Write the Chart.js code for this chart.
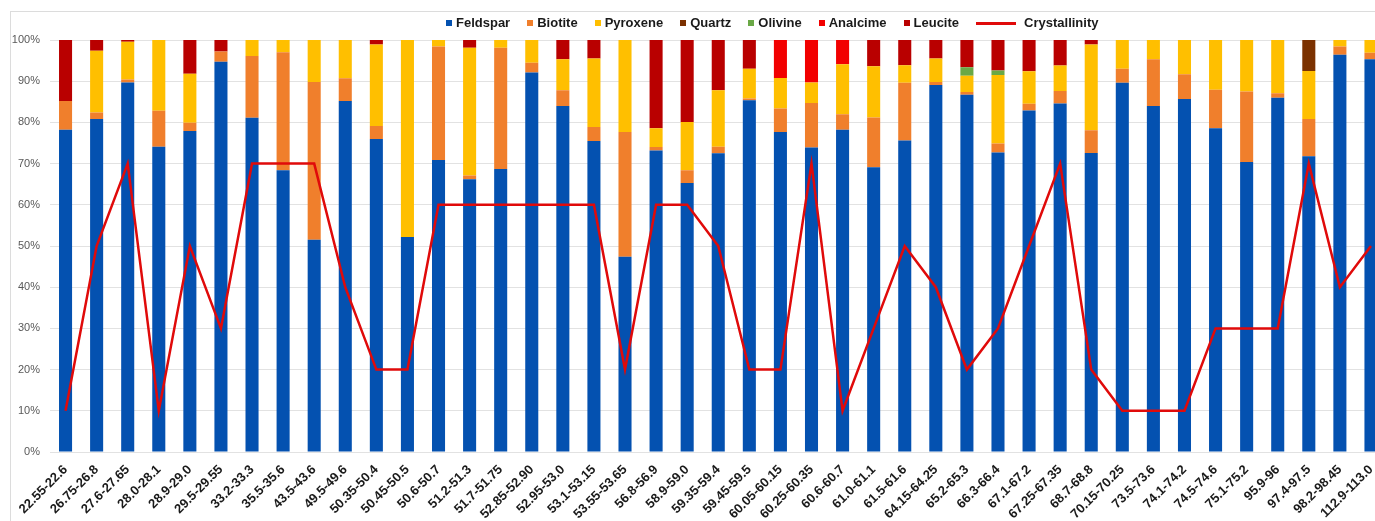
<!DOCTYPE html>
<html>
<head>
<meta charset="utf-8">
<script src="https://cdn.jsdelivr.net/npm/chart.js@4.4.1/dist/chart.umd.min.js"></script>
<style>
  html, body { margin: 0; padding: 0; background: #fff; overflow: hidden; }
  body { width: 1375px; height: 521px; position: relative; font-family: "Liberation Sans", Arial, sans-serif; }
  .frame { position: absolute; left: 10px; top: 11px; width: 1400px; height: 540px; border-left: 1px solid #dcdcdc; border-top: 1px solid #dcdcdc; }
  .chart-wrap { position: absolute; left: 0; top: 0; width: 1392px; height: 521px; }
  .legend { position: absolute; left: 446px; top: 15px; display: flex; align-items: center; font-weight: bold; font-size: 13px; line-height: 16px; color: #1a1a1a; white-space: nowrap; }
  .legend__item { display: flex; align-items: center; margin-right: 17px; }
  .legend__box { width: 6px; height: 6px; margin-right: 4px; }
  .legend__line { width: 40px; height: 3px; margin-right: 8px; }
</style>
</head>
<body>
<div class="frame"></div>
<div class="chart-wrap"><canvas id="mineralChart"></canvas></div>
<div class="legend" id="legend"></div>
<script>
const depths = [
  '22.55-22.6', '26.75-26.8', '27.6-27.65', '28.0-28.1', '28.9-29.0', '29.5-29.55', '33.2-33.3',
  '35.5-35.6', '43.5-43.6', '49.5-49.6', '50.35-50.4', '50.45-50.5', '50.6-50.7', '51.2-51.3',
  '51.7-51.75', '52.85-52.90', '52.95-53.0', '53.1-53.15', '53.55-53.65', '56.8-56.9', '58.9-59.0',
  '59.35-59.4', '59.45-59.5', '60.05-60.15', '60.25-60.35', '60.6-60.7', '61.0-61.1', '61.5-61.6',
  '64.15-64.25', '65.2-65.3', '66.3-66.4', '67.1-67.2', '67.25-67.35', '68.7-68.8', '70.15-70.25',
  '73.5-73.6', '74.1-74.2', '74.5-74.6', '75.1-75.2', '95.9-96', '97.4-97.5', '98.2-98.45', '112.9-113.0',
];

const feldspar = [78.2, 80.8, 89.7, 74.1, 77.9, 94.7, 81.1, 68.4, 51.5, 85.2, 76.0, 52.2, 70.9, 66.2, 68.7,
  92.1, 84.0, 75.5, 47.4, 73.2, 65.3, 72.5, 85.4, 77.7, 73.9, 78.2, 69.1, 75.6, 89.1, 86.7, 72.7, 82.9,
  84.6, 72.6, 89.6, 84.0, 85.7, 78.6, 70.4, 86.0, 71.8, 96.4, 95.3];
const biotite = [7.0, 1.6, 0.7, 8.7, 2.0, 2.5, 15.0, 28.6, 38.3, 5.5, 3.1, 0, 27.5, 0.9, 29.4,
  2.4, 3.8, 3.4, 30.3, 0.8, 3.1, 1.6, 0.4, 5.7, 10.8, 3.8, 12.1, 14.0, 0.7, 0.7, 2.2, 1.6,
  3.0, 5.5, 3.4, 11.3, 6.0, 9.3, 17.1, 1.1, 9.0, 2.0, 1.6];
const pyroxene = [0, 15.0, 9.2, 17.2, 11.9, 0, 3.9, 3.0, 10.2, 9.3, 19.8, 47.8, 1.6, 31.0, 1.9,
  5.5, 7.5, 16.6, 22.3, 4.6, 11.7, 13.7, 7.2, 7.4, 5.0, 12.1, 12.4, 4.3, 5.7, 3.9, 16.6, 7.9,
  6.2, 20.8, 7.0, 4.7, 8.3, 12.1, 12.5, 12.9, 11.7, 1.6, 3.1];
const quartz = [0, 0, 0, 0, 0, 0, 0, 0, 0, 0, 0, 0, 0, 0, 0,
  0, 0, 0, 0, 0, 0, 0, 0, 0, 0, 0, 0, 0, 0, 0, 0, 0,
  0, 0, 0, 0, 0, 0, 0, 0, 7.5, 0, 0];
const olivine = [0, 0, 0, 0, 0, 0, 0, 0, 0, 0, 0, 0, 0, 0, 0,
  0, 0, 0, 0, 0, 0, 0, 0, 0, 0, 0, 0, 0, 0, 2.1, 1.1, 0,
  0, 0, 0, 0, 0, 0, 0, 0, 0, 0, 0];
const analcime = [0, 0, 0, 0, 0, 0, 0, 0, 0, 0, 0, 0, 0, 0, 0,
  0, 0, 0, 0, 0, 0, 0, 0, 9.2, 10.3, 5.9, 0, 0, 0, 0, 0, 0,
  0, 0, 0, 0, 0, 0, 0, 0, 0, 0, 0];
const leucite = [14.8, 2.6, 0.4, 0, 8.2, 2.8, 0, 0, 0, 0, 1.1, 0, 0, 1.9, 0,
  0, 4.7, 4.5, 0, 21.4, 19.9, 12.2, 7.0, 0, 0, 0, 6.4, 6.1, 4.5, 6.6, 7.4, 7.6,
  6.2, 1.1, 0, 0, 0, 0, 0, 0, 0, 0, 0];
const crystallinity = [10, 50, 70, 10, 50, 30, 70, 70, 70, 40, 20, 20, 60, 60, 60,
  60, 60, 60, 20, 60, 60, 50, 20, 20, 70, 10, 30, 50, 40, 20, 30, 50,
  70, 20, 10, 10, 10, 30, 30, 30, 70, 40, 50];

const yTicks = [0, 10, 20, 30, 40, 50, 60, 70, 80, 90, 100];

const minerals = [
  { label: 'Feldspar', data: feldspar, color: '#0451b0' },
  { label: 'Biotite', data: biotite, color: '#f07f2c' },
  { label: 'Pyroxene', data: pyroxene, color: '#ffbf00' },
  { label: 'Quartz', data: quartz, color: '#7b3100' },
  { label: 'Olivine', data: olivine, color: '#6aa846' },
  { label: 'Analcime', data: analcime, color: '#f20000' },
  { label: 'Leucite', data: leucite, color: '#b90000' },
];
const lineColor = '#e00a0a';

const fontFamily = '"Liberation Sans", Arial, sans-serif';

function buildLegend() {
  const el = document.getElementById('legend');
  minerals.forEach((m) => {
    const item = document.createElement('div');
    item.className = 'legend__item';
    item.innerHTML = `<span class="legend__box" style="background:${m.color}"></span><span>${m.label}</span>`;
    el.appendChild(item);
  });
  const lineItem = document.createElement('div');
  lineItem.className = 'legend__item';
  lineItem.innerHTML = `<span class="legend__line" style="background:${lineColor}"></span><span>Crystallinity</span>`;
  el.appendChild(lineItem);
}

function renderChart() {
  const ctx = document.getElementById('mineralChart');
  const barSets = minerals.map((m) => ({
    type: 'bar',
    label: m.label,
    data: m.data,
    backgroundColor: m.color,
    borderWidth: 0,
    stack: 'minerals',
    order: 1,
    categoryPercentage: 1,
    barPercentage: 0.42,
  }));

  new Chart(ctx, {
    data: {
      labels: depths,
      datasets: [
        ...barSets,
        {
          type: 'line',
          label: 'Crystallinity',
          data: crystallinity,
          borderColor: lineColor,
          backgroundColor: lineColor,
          borderWidth: 2.5,
          tension: 0,
          pointRadius: 0,
          fill: false,
          stack: 'line',
          order: 0,
        },
      ],
    },
    options: {
      responsive: true,
      maintainAspectRatio: false,
      animation: false,
      layout: { padding: { top: 40, left: 0, right: 0, bottom: 0 } },
      plugins: {
        legend: { display: false },
        tooltip: { enabled: false },
      },
      scales: {
        x: {
          stacked: true,
          grid: { display: false, drawTicks: false },
          border: { display: false },
          ticks: {
            autoSkip: false,
            minRotation: 45,
            maxRotation: 45,
            padding: 10,
            color: '#1a1a1a',
            font: { family: fontFamily, size: 13, weight: 'bold' },
          },
          afterFit: (scale) => { scale.height = 69; },
        },
        y: {
          stacked: true,
          min: 0,
          max: 100,
          afterBuildTicks: (scale) => { scale.ticks = yTicks.map((v) => ({ value: v })); },
          grid: { color: '#e2e2e2', lineWidth: 1, drawTicks: false },
          border: { display: false },
          ticks: {
            padding: 10,
            color: '#595959',
            font: { family: fontFamily, size: 11 },
            callback: (value) => `${value}%`,
          },
          afterFit: (scale) => { scale.width = 50; },
        },
      },
    },
  });
}

buildLegend();
renderChart();
</script>
</body>
</html>
